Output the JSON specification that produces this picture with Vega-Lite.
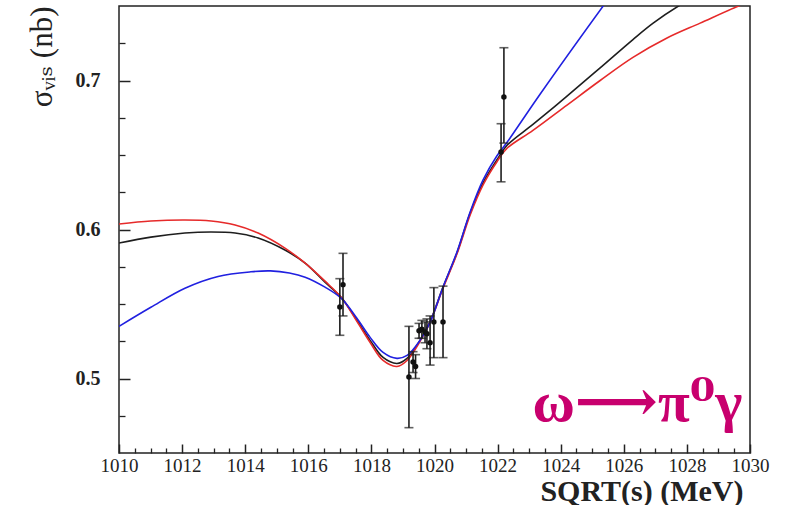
{
  "$schema": "https://vega.github.io/schema/vega-lite/v6.json",
  "autosize": "none",
  "width": 631,
  "height": 447,
  "padding": {"left": 119, "top": 6, "right": 40, "bottom": 52},
  "background": "white",
  "config": {
    "view": {"stroke": "#222", "strokeWidth": 1.5},
    "axis": {"grid": false, "domain": false, "labelFont": "Liberation Serif", "titleFont": "Liberation Serif", "tickColor": "#222", "labelColor": "#222", "titleColor": "#222"}
  },
  "datasets": {
    "curves": [
      {"model": "black", "s": 1010.0, "sigma": 0.5909}, {"model": "black", "s": 1011.01, "sigma": 0.5949}, {"model": "black", "s": 1012.09, "sigma": 0.5976}, {"model": "black", "s": 1012.92, "sigma": 0.5983}, {"model": "black", "s": 1013.68, "sigma": 0.5976}, {"model": "black", "s": 1014.41, "sigma": 0.5943}, {"model": "black", "s": 1015.26, "sigma": 0.5862}, {"model": "black", "s": 1015.9, "sigma": 0.5774}, {"model": "black", "s": 1016.53, "sigma": 0.5646}, {"model": "black", "s": 1017.04, "sigma": 0.5545}, {"model": "black", "s": 1017.54, "sigma": 0.5391}, {"model": "black", "s": 1017.96, "sigma": 0.5256}, {"model": "black", "s": 1018.37, "sigma": 0.5141}, {"model": "black", "s": 1018.81, "sigma": 0.5101}, {"model": "black", "s": 1019.13, "sigma": 0.5135}, {"model": "black", "s": 1019.54, "sigma": 0.5256}, {"model": "black", "s": 1019.86, "sigma": 0.5384}, {"model": "black", "s": 1020.27, "sigma": 0.5613}, {"model": "black", "s": 1020.71, "sigma": 0.5842}, {"model": "black", "s": 1021.13, "sigma": 0.6111}, {"model": "black", "s": 1021.54, "sigma": 0.6313}, {"model": "black", "s": 1021.98, "sigma": 0.6468}, {"model": "black", "s": 1022.3, "sigma": 0.6565}, {"model": "black", "s": 1023.12, "sigma": 0.6705}, {"model": "black", "s": 1024.2, "sigma": 0.6895}, {"model": "black", "s": 1025.25, "sigma": 0.7085}, {"model": "black", "s": 1026.29, "sigma": 0.7275}, {"model": "black", "s": 1026.93, "sigma": 0.7385}, {"model": "black", "s": 1027.72, "sigma": 0.7498}, {"model": "black", "s": 1028.3, "sigma": 0.7565},
      {"model": "red", "s": 1010.0, "sigma": 0.6037}, {"model": "red", "s": 1011.01, "sigma": 0.6057}, {"model": "red", "s": 1012.09, "sigma": 0.6064}, {"model": "red", "s": 1012.92, "sigma": 0.6057}, {"model": "red", "s": 1013.68, "sigma": 0.603}, {"model": "red", "s": 1014.41, "sigma": 0.5976}, {"model": "red", "s": 1015.26, "sigma": 0.5875}, {"model": "red", "s": 1015.9, "sigma": 0.5774}, {"model": "red", "s": 1016.53, "sigma": 0.5653}, {"model": "red", "s": 1017.04, "sigma": 0.5545}, {"model": "red", "s": 1017.54, "sigma": 0.5384}, {"model": "red", "s": 1017.96, "sigma": 0.5242}, {"model": "red", "s": 1018.37, "sigma": 0.5121}, {"model": "red", "s": 1018.81, "sigma": 0.5081}, {"model": "red", "s": 1019.13, "sigma": 0.5121}, {"model": "red", "s": 1019.54, "sigma": 0.5249}, {"model": "red", "s": 1019.86, "sigma": 0.5377}, {"model": "red", "s": 1020.27, "sigma": 0.5606}, {"model": "red", "s": 1020.71, "sigma": 0.5835}, {"model": "red", "s": 1021.13, "sigma": 0.6098}, {"model": "red", "s": 1021.54, "sigma": 0.63}, {"model": "red", "s": 1021.98, "sigma": 0.6455}, {"model": "red", "s": 1022.3, "sigma": 0.6545}, {"model": "red", "s": 1023.12, "sigma": 0.6665}, {"model": "red", "s": 1024.2, "sigma": 0.6835}, {"model": "red", "s": 1025.25, "sigma": 0.7}, {"model": "red", "s": 1026.29, "sigma": 0.7155}, {"model": "red", "s": 1027.37, "sigma": 0.7285}, {"model": "red", "s": 1028.42, "sigma": 0.7385}, {"model": "red", "s": 1029.62, "sigma": 0.7498}, {"model": "red", "s": 1030.0, "sigma": 0.7528},
      {"model": "blue", "s": 1010.0, "sigma": 0.535}, {"model": "blue", "s": 1011.01, "sigma": 0.5478}, {"model": "blue", "s": 1012.09, "sigma": 0.5606}, {"model": "blue", "s": 1013.14, "sigma": 0.5685}, {"model": "blue", "s": 1014.18, "sigma": 0.5716}, {"model": "blue", "s": 1014.8, "sigma": 0.5722}, {"model": "blue", "s": 1015.4, "sigma": 0.5708}, {"model": "blue", "s": 1015.9, "sigma": 0.568}, {"model": "blue", "s": 1016.53, "sigma": 0.5613}, {"model": "blue", "s": 1017.04, "sigma": 0.5539}, {"model": "blue", "s": 1017.54, "sigma": 0.5404}, {"model": "blue", "s": 1017.96, "sigma": 0.5276}, {"model": "blue", "s": 1018.37, "sigma": 0.5175}, {"model": "blue", "s": 1018.81, "sigma": 0.5135}, {"model": "blue", "s": 1019.13, "sigma": 0.5155}, {"model": "blue", "s": 1019.54, "sigma": 0.5256}, {"model": "blue", "s": 1019.86, "sigma": 0.5377}, {"model": "blue", "s": 1020.27, "sigma": 0.5613}, {"model": "blue", "s": 1020.71, "sigma": 0.5848}, {"model": "blue", "s": 1021.13, "sigma": 0.6118}, {"model": "blue", "s": 1021.54, "sigma": 0.6333}, {"model": "blue", "s": 1021.98, "sigma": 0.6495}, {"model": "blue", "s": 1022.3, "sigma": 0.6585}, {"model": "blue", "s": 1023.34, "sigma": 0.6906}, {"model": "blue", "s": 1025.34, "sigma": 0.7498}, {"model": "blue", "s": 1025.8, "sigma": 0.763}
    ],
    "points": [
      {"s": 1017.0, "sigma": 0.548, "lo": 0.529, "hi": 0.567},
      {"s": 1017.1, "sigma": 0.563, "lo": 0.542, "hi": 0.584},
      {"s": 1019.19, "sigma": 0.501, "lo": 0.467, "hi": 0.535},
      {"s": 1019.32, "sigma": 0.511, "lo": 0.504, "hi": 0.518},
      {"s": 1019.4, "sigma": 0.508, "lo": 0.5, "hi": 0.516},
      {"s": 1019.51, "sigma": 0.532, "lo": 0.527, "hi": 0.537},
      {"s": 1019.6, "sigma": 0.533, "lo": 0.527, "hi": 0.539},
      {"s": 1019.7, "sigma": 0.531, "lo": 0.524, "hi": 0.538},
      {"s": 1019.76, "sigma": 0.53, "lo": 0.52, "hi": 0.54},
      {"s": 1019.86, "sigma": 0.524, "lo": 0.509, "hi": 0.542},
      {"s": 1019.98, "sigma": 0.538, "lo": 0.514, "hi": 0.561},
      {"s": 1020.27, "sigma": 0.538, "lo": 0.514, "hi": 0.562},
      {"s": 1022.11, "sigma": 0.652, "lo": 0.632, "hi": 0.671},
      {"s": 1022.2, "sigma": 0.689, "lo": 0.658, "hi": 0.722}
    ],
    "note": [
      {"s": 1026.43, "sigma": 0.4717, "label": "ω⟶π⁰γ"}
    ]
  },
  "resolve": {"axis": {"x": "independent", "y": "independent"}},
  "layer": [
    {
      "data": {"name": "curves"},
      "mark": {"type": "line", "interpolate": "catmull-rom", "strokeWidth": 1.6, "clip": true},
      "encoding": {
        "x": {"field": "s", "type": "quantitative", "scale": {"domain": [1010, 1030], "nice": false, "zero": false},
          "axis": {"orient": "bottom", "values": [1010, 1012, 1014, 1016, 1018, 1020, 1022, 1024, 1026, 1028, 1030], "format": "d", "tickSize": -9, "tickWidth": 1.5, "labelPadding": 12, "labelFontSize": 19, "labelFlush": false, "labelOverlap": false,
            "title": "SQRT(s) (MeV)", "titleFontSize": 30, "titleFontWeight": "bold", "titleAnchor": "end", "titleAlign": "right", "titleX": 624, "titleY": 47, "titleBaseline": "alphabetic"}},
        "y": {"field": "sigma", "type": "quantitative", "scale": {"domain": [0.45, 0.75], "nice": false, "zero": false},
          "axis": {"orient": "left", "values": [0.5, 0.6, 0.7], "format": ".1f", "tickSize": -11, "tickWidth": 1.5, "labelPadding": 30, "labelFontSize": 20, "labelFontWeight": "bold",
            "title": "σᵥᵢₛ (nb)", "titleFont": "Liberation Serif, DejaVu Serif", "titleFontSize": 31, "titleFontWeight": "normal", "titleAngle": -90, "titleAnchor": "end", "titleAlign": "right", "titleBaseline": "alphabetic", "titleX": -68, "titleY": 0}},
        "color": {"field": "model", "type": "nominal", "scale": {"domain": ["black", "red", "blue"], "range": ["#1e1e1e", "#e62a2a", "#2020e0"]}, "legend": null}
      }
    },
    {
      "data": {"name": "points"},
      "mark": {"type": "rule", "color": "#1e1e1e", "strokeWidth": 1.6},
      "encoding": {
        "x": {"field": "s", "type": "quantitative", "scale": {"domain": [1010, 1030], "nice": false, "zero": false},
          "axis": {"orient": "bottom", "values": [1010.5, 1011, 1011.5, 1012.5, 1013, 1013.5, 1014.5, 1015, 1015.5, 1016.5, 1017, 1017.5, 1018.5, 1019, 1019.5, 1020.5, 1021, 1021.5, 1022.5, 1023, 1023.5, 1024.5, 1025, 1025.5, 1026.5, 1027, 1027.5, 1028.5, 1029, 1029.5], "labels": false, "tickSize": -5, "tickWidth": 1.3, "title": null}},
        "y": {"field": "lo", "type": "quantitative", "scale": {"domain": [0.45, 0.75], "nice": false, "zero": false},
          "axis": {"orient": "left", "values": [0.475, 0.525, 0.55, 0.575, 0.625, 0.65, 0.675, 0.725], "labels": false, "tickSize": -6, "tickWidth": 1.3, "title": null}},
        "y2": {"field": "hi"}
      }
    },
    {
      "data": {"name": "points"},
      "mark": {"type": "tick", "orient": "horizontal", "color": "#1e1e1e", "thickness": 1.6, "size": 9},
      "encoding": {
        "x": {"field": "s", "type": "quantitative", "axis": null},
        "y": {"field": "lo", "type": "quantitative", "axis": null}
      }
    },
    {
      "data": {"name": "points"},
      "mark": {"type": "tick", "orient": "horizontal", "color": "#1e1e1e", "thickness": 1.6, "size": 9},
      "encoding": {
        "x": {"field": "s", "type": "quantitative", "axis": null},
        "y": {"field": "hi", "type": "quantitative", "axis": null}
      }
    },
    {
      "data": {"name": "points"},
      "mark": {"type": "point", "filled": true, "color": "#111", "size": 30, "opacity": 1},
      "encoding": {
        "x": {"field": "s", "type": "quantitative", "axis": null},
        "y": {"field": "sigma", "type": "quantitative", "axis": null}
      }
    },
    {
      "data": {"name": "note"},
      "mark": {"type": "text", "color": "#c8006e", "font": "Liberation Serif, DejaVu Serif", "fontSize": 58, "fontWeight": "bold", "align": "center", "baseline": "alphabetic"},
      "encoding": {
        "x": {"field": "s", "type": "quantitative", "axis": null},
        "y": {"field": "sigma", "type": "quantitative", "axis": null},
        "text": {"field": "label"}
      }
    }
  ]
}
